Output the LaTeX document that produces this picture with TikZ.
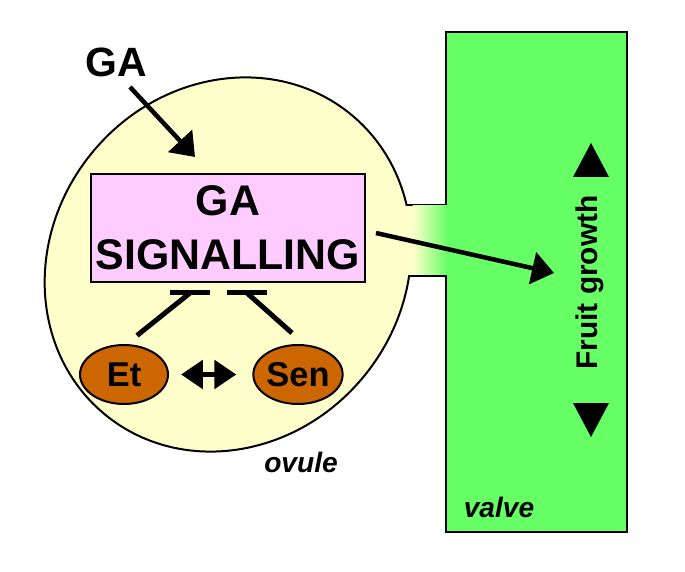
\documentclass[tikz,border=0pt]{standalone}
\usepackage{fontspec}
\setmainfont{Liberation Sans}
\usepackage{tikz}
\usetikzlibrary{arrows.meta,calc,positioning,shapes.geometric}
\definecolor{OvuleYellow}{HTML}{FFFFCC}
\definecolor{ValveGreen}{HTML}{66FF66}
\definecolor{SignalPink}{HTML}{FFCCFF}
\definecolor{HormoneBrown}{HTML}{CC6600}

\begin{document}
\begin{tikzpicture}[x=0.02cm, y=0.02cm,
    signal/.style={draw, line width=0.04cm, fill=SignalPink, minimum width=5.48cm, minimum height=2.16cm, align=center, inner sep=0pt, outer sep=0pt, font=\fontsize{24.4}{30.6}\selectfont\bfseries},
    hormone/.style={ellipse, draw, line width=0.04cm, fill=HormoneBrown, minimum width=1.76cm, minimum height=1.18cm, inner sep=0pt, outer sep=0pt, font=\fontsize{19.6}{22}\selectfont\bfseries},
    tag/.style={inner sep=0pt, font=\fontsize{16}{18}\selectfont\bfseries\itshape},
    arr/.style={line width=0.09cm, -{Triangle[length=0.44cm, width=0.64cm]}},
    inh/.style={line width=0.1cm},
    swap/.style={line width=0.12cm, {Triangle[length=0.44cm, width=0.56cm]}-{Triangle[length=0.44cm, width=0.56cm]}}
]
    \useasboundingbox (0,0) rectangle (685,571);

    \filldraw[fill=ValveGreen, line width=0.05cm] (446,39) rectangle (627,539);
    \draw[line width=0.04cm] (380,366) -- (447,366) (380,295) -- (447,295);
    \filldraw[fill=OvuleYellow, line width=0.04cm] (228,306.5) circle [x radius=194, y radius=176, rotate=51];
    \fill[OvuleYellow] (388,296) rectangle (413,365);
    \shade[left color=OvuleYellow, right color=ValveGreen] (412.5,296) rectangle (447.5,365);

    \node[signal] (sig) at (228,343) {GA\\SIGNALLING};
    \node[anchor=south, inner sep=0pt, font=\fontsize{23.3}{26}\selectfont\bfseries] (ga) at (116,494) {GA};
    \node[hormone] (et) at (124,196.5) {Et};
    \node[hormone] (sen) at (298,196.5) {Sen};
    \node[rotate=90, anchor=base, inner sep=0pt, font=\fontsize{17}{20}\selectfont\bfseries] (fruit) at (597,288.5) {Fruit growth};
    \node[tag, anchor=base] (ovule) at (301,99) {ovule};
    \node[tag, anchor=base] (valve) at (499,54) {valve};

    \fill (573,394) -- (609,394) -- (591,428) -- cycle;
    \fill (573,168) -- (609,168) -- (591,134) -- cycle;

    \draw[arr] ($(ga.south)+(14,-10)$) -- ($(sig.north west)+(104,17)$);
    \draw[arr] ($(sig.east)+(11,-5)$) -- ($(fruit.base)+(-43,9.5)$);

    \coordinate (barL) at ($(sig.south)+(-38,-11)$);
    \coordinate (barR) at ($(sig.south)+(19,-11)$);
    \draw[inh] ($(et.north)+(13,9.5)$) -- (barL);
    \draw[inh] ($(sen.north)+(-6,12)$) -- (barR);
    \draw[inh] ($(barL)+(-20,0)$) -- ($(barL)+(20,0)$);
    \draw[inh] ($(barR)+(-20,0)$) -- ($(barR)+(20,0)$);
    \draw[swap, shorten <=0.26cm, shorten >=0.34cm] (et) -- (sen);
\end{tikzpicture}
\end{document}
